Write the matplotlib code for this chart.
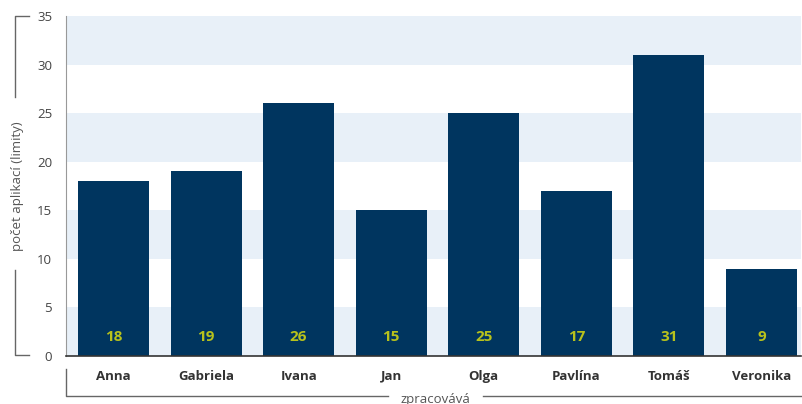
import matplotlib
matplotlib.use("Agg")
import matplotlib.pyplot as plt
from matplotlib.lines import Line2D

names = ["Anna", "Gabriela", "Ivana", "Jan", "Olga", "Pavlína", "Tomáš", "Veronika"]
counts = [18, 19, 26, 15, 25, 17, 31, 9]
y_ticks = [0, 5, 10, 15, 20, 25, 30, 35]

bar_color = "#00355f"
label_color = "#b8c21c"
band_color = "#e8f0f8"

plt.rcParams["font.family"] = ["Open Sans", "DejaVu Sans"]

fig = plt.figure(figsize=(8.02, 4.04), dpi=100)
W, H = 802, 404
ax = fig.add_axes([66 / W, (H - 356) / H, (801 - 66) / W, (356 - 16) / H])

# alternating background bands
for lo in range(0, 35, 10):
    ax.axhspan(lo, lo + 5, color=band_color, zorder=0, lw=0)

xs = list(range(len(names)))
ax.bar(xs, counts, width=0.767, color=bar_color, zorder=2)
for x, v in zip(xs, counts):
    ax.text(x, 2, str(v), ha="center", va="center", color=label_color,
            fontsize=11, fontweight="bold", zorder=3)

ax.set_xlim(-0.513, 7.427)
ax.set_ylim(0, 35)
ax.set_yticks(y_ticks)
ax.set_xticks(xs)
ax.set_xticklabels(names, fontweight="bold", color="#333333", fontsize=9.5)
ax.tick_params(axis="x", length=0, pad=10)
ax.tick_params(axis="y", length=0, pad=10, labelsize=9.5, labelcolor="#444444")

for s in ["top", "right"]:
    ax.spines[s].set_visible(False)
ax.spines["left"].set_color("#999999")
ax.spines["bottom"].set_color("#333333")
ax.spines["bottom"].set_linewidth(1.2)


def fig_line(xpix, ypix, **kw):
    fig.add_artist(Line2D([p / W for p in xpix], [1 - p / H for p in ypix],
                          transform=fig.transFigure, color="#666666", lw=1, **kw))


# y-axis bracket
fig_line([29, 15, 15], [16, 16, 97])
fig_line([15, 15, 29], [270, 355, 355])
fig.text(18 / W, 1 - 186 / H, "počet aplikací (limity)", rotation=90,
         ha="center", va="center", color="#555555", fontsize=9.5)

# x-axis bracket
fig_line([66, 66, 388], [369, 396, 396])
fig_line([483, 802], [396, 396])
fig.text(435 / W, 1 - 399 / H, "zpracovává", ha="center", va="center",
         color="#555555", fontsize=9.5)

fig.savefig("out.png", dpi=100)
